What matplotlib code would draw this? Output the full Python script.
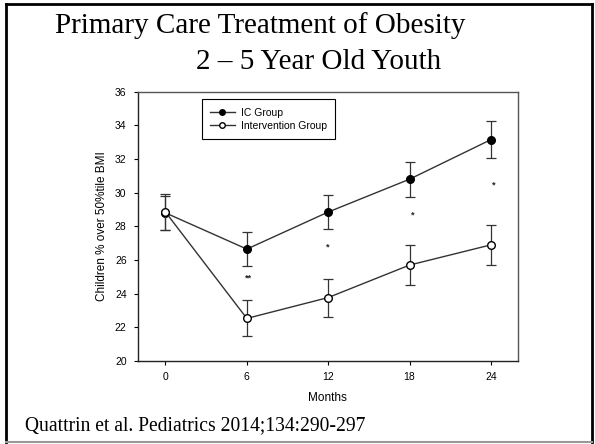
import matplotlib
matplotlib.use('Agg')
import matplotlib.pyplot as plt
from matplotlib.lines import Line2D

# Данные
months = [0, 6, 12, 18, 24]
ic_mean = [28.8, 26.65, 28.85, 30.8, 33.15]
ic_err = [1.0, 1.0, 1.03, 1.05, 1.08]
int_mean = [28.85, 22.53, 23.77, 25.7, 26.9]
int_err = [1.05, 1.07, 1.13, 1.2, 1.2]

sig_months = [6.1, 12, 18.2, 24.2]
sig_y = [24.9, 26.8, 28.7, 30.45]
sig_labels = ['**', '*', '*', '*']

x_ticks = [0, 6, 12, 18, 24]
y_ticks = [20, 22, 24, 26, 28, 30, 32, 34, 36]
series_names = ['IC Group', 'Intervention Group']

plt.rcParams['font.family'] = ['Liberation Sans', 'DejaVu Sans']

fig = plt.figure(figsize=(5.95, 4.44), dpi=100)
ax = fig.add_axes([0.2314, 0.1869, 0.6392, 0.6066])

line_color = '#333333'
ax.errorbar(months, ic_mean, yerr=ic_err, color=line_color, lw=1.0,
            marker='o', markersize=5.5, markerfacecolor='black',
            markeredgecolor='black', capsize=3.3, elinewidth=0.9,
            capthick=0.9, zorder=3)
ax.errorbar(months, int_mean, yerr=int_err, color=line_color, lw=1.0,
            marker='o', markersize=5.5, markerfacecolor='white',
            markeredgecolor='black', capsize=3.3, elinewidth=0.9,
            capthick=0.9, zorder=4)

# Звёздочки значимости
for mx, my, lab in zip(sig_months, sig_y, sig_labels):
    ax.text(mx, my, lab, ha='center', va='center', fontsize=6.5,
            fontweight='bold', color='#222222')

ax.set_xlim(-2.05, 26)
ax.set_ylim(20, 36)
ax.set_xticks(x_ticks)
ax.set_yticks(y_ticks)
ax.tick_params(direction='out', length=3, width=0.8, labelsize=7.5, pad=5)
ax.set_xlabel('Months', fontsize=8.5, labelpad=7)
ax.set_ylabel('Children % over 50%tile BMI', fontsize=8.5, labelpad=5)

for side in ['left', 'bottom']:
    ax.spines[side].set_color('#222222')
    ax.spines[side].set_linewidth(1.0)
for side in ['top', 'right']:
    ax.spines[side].set_color('#555555')
    ax.spines[side].set_linewidth(1.0)

# Легенда без усов погрешностей
handles = [
    Line2D([], [], color=line_color, lw=1.0, marker='o', markersize=4,
           markerfacecolor='black', markeredgecolor='black'),
    Line2D([], [], color=line_color, lw=1.0, marker='o', markersize=4,
           markerfacecolor='white', markeredgecolor='black'),
]
leg = ax.legend(handles, series_names, loc='upper left',
                bbox_to_anchor=(0.168, 0.972), fontsize=7.5,
                fancybox=False, edgecolor='black', framealpha=1,
                handlelength=2.4, handletextpad=0.6, borderpad=0.8,
                labelspacing=0.3, borderaxespad=0)
leg.get_frame().set_linewidth(0.8)

# Заголовок и подпись слайда
serif = ['Liberation Serif', 'DejaVu Serif']
fig.text(0.0924, 0.9257, 'Primary Care Treatment of Obesity', fontsize=21,
         family=serif, ha='left', va='baseline')
fig.text(0.3294, 0.8446, '2 \u2013 5 Year Old Youth', fontsize=21,
         family=serif, ha='left', va='baseline')
fig.text(0.042, 0.0315, 'Quattrin et al. Pediatrics 2014;134:290-297',
         fontsize=14.1, family=serif, ha='left', va='baseline')

# Рамка слайда
W, H = 595.0, 444.0
fig.add_artist(Line2D([6 / W, 6 / W], [1 - 4 / H, 1 - 442 / H], color='black', lw=2))
fig.add_artist(Line2D([6 / W, 592 / W], [1 - 4 / H, 1 - 4 / H], color='black', lw=2))
fig.add_artist(Line2D([592 / W, 592 / W], [1 - 4 / H, 1 - 442 / H], color='black', lw=2))
fig.add_artist(Line2D([6 / W, 592 / W], [1 - 442 / H, 1 - 442 / H], color='#999999', lw=1.5))

fig.savefig('out.png', dpi=100)
